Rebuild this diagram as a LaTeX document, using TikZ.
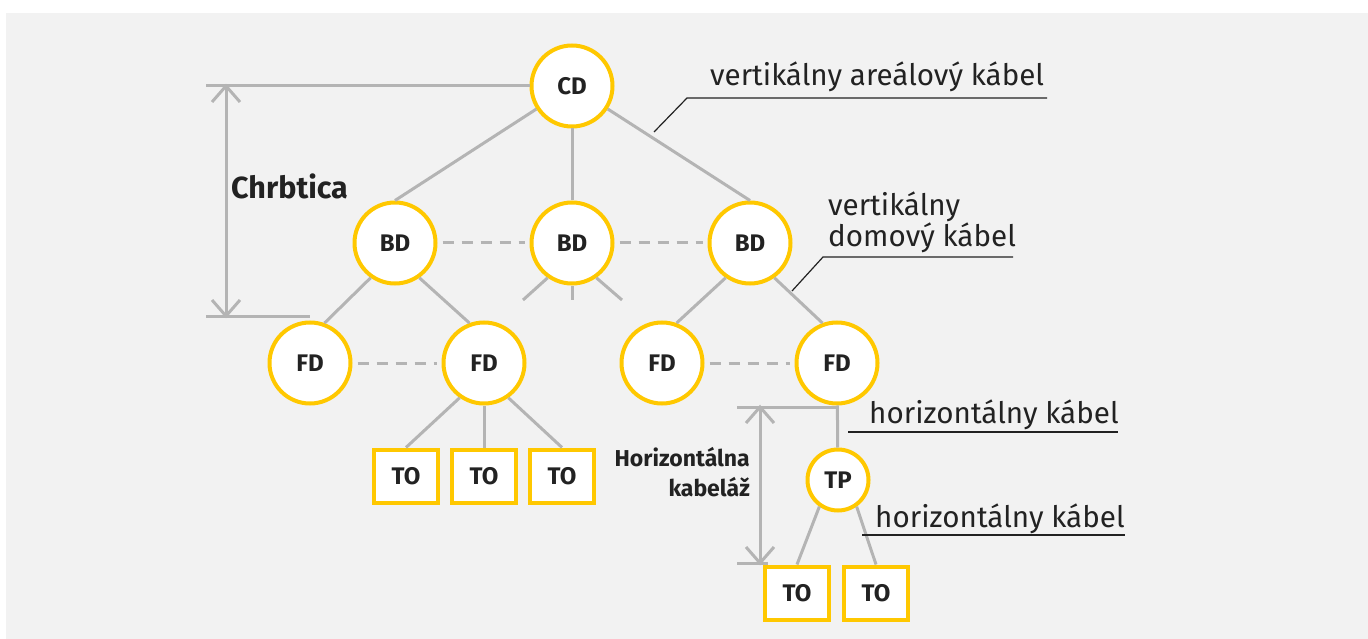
\documentclass[tikz,border=0pt]{standalone}
\usepackage{fontspec}
\setmainfont{Fira Sans}
\usetikzlibrary{calc}
\definecolor{ylw}{HTML}{FFC800}
\definecolor{lgray}{HTML}{B4B4B4}
\definecolor{bgc}{HTML}{F2F2F2}
\definecolor{txt}{HTML}{222222}
\tikzset{
  hub/.style={circle, draw=ylw, line width=4pt, fill=white, minimum size=81pt, inner sep=0pt,
    font=\fontsize{24}{24}\selectfont\bfseries, text=txt},
  tphub/.style={hub, minimum size=61pt},
  outlet/.style={rectangle, draw=ylw, line width=4pt, fill=white, minimum width=64pt,
    minimum height=53pt, inner sep=0pt, font=\fontsize{24}{24}\selectfont\bfseries, text=txt},
  link/.style={draw=lgray, line width=3pt},
  peer/.style={draw=lgray, line width=3pt, dash pattern=on 11pt off 8pt, shorten <=5pt, shorten >=5pt},
  dimline/.style={draw=lgray, line width=3pt},
  leader/.style={draw=txt, line width=1.2pt},
  lbl/.style={font=\fontsize{29.6}{34}\selectfont, text=txt, inner sep=0pt},
  dimlbl/.style={font=\bfseries, text=txt, inner sep=0pt}
}
\begin{document}
\begin{tikzpicture}[x=1pt,y=-1pt]
\useasboundingbox (0,0) rectangle (1368,639);
\fill[bgc] (6,13) rectangle (1368,639);

% nodes
\node[hub] (CD) at (572,86) {CD};
\node[hub] (BD1) at (395,243) {BD};
\node[hub] (BD2) at (572,243) {BD};
\node[hub] (BD3) at (750,243) {BD};
\node[hub] (FD1) at (310,363) {FD};
\node[hub] (FD2) at (484,363) {FD};
\node[hub] (FD3) at (662,363) {FD};
\node[hub] (FD4) at (837,363) {FD};
\node[tphub] (TP) at (838,480) {TP};
\node[outlet] (TO1) at (406,476) {TO};
\node[outlet] (TO2) at (484,476) {TO};
\node[outlet] (TO3) at (562,476) {TO};
\node[outlet] (TO4) at (797,593) {TO};
\node[outlet] (TO5) at (876,593) {TO};

% tree links
\draw[link] (CD) -- (BD1.north);
\draw[link] (CD) -- (BD2);
\draw[link] (CD) -- (BD3.north);
\draw[link] (BD1.235) -- (FD1.70);
\draw[link] (BD1.305) -- (FD2.110);
\draw[link] (BD3.235) -- (FD3.70);
\draw[link] (BD3.305) -- (FD4.110);
\draw[link] (FD2.235) -- (TO1.north);
\draw[link] (FD2) -- (TO2);
\draw[link] (FD2.305) -- (TO3.north);
\draw[link] (FD4) -- (TP);
\draw[link] (TP.235) -- (TO4.north);
\draw[link] (TP.305) -- (TO5.north);

% stubs below middle BD
\coordinate (s1) at (523,300);
\coordinate (s2) at (572,300);
\coordinate (s3) at (622,300);
\draw[link] (BD2.235) -- (s1);
\draw[link] (BD2.south) -- (s2);
\draw[link] (BD2.305) -- (s3);

% peer (dashed) links
\draw[peer] (BD1) -- (BD2);
\draw[peer] (BD2) -- (BD3);
\draw[peer] (FD1) -- (FD2);
\draw[peer] (FD3) -- (FD4);

% Chrbtica dimension
\coordinate (cht) at (206,86);
\coordinate (chb) at (206,316);
\coordinate (chbe) at (310,316);
\coordinate (cha1) at (226,86);
\coordinate (cha2) at (226,316);
\draw[dimline] (cht) -- (CD.west);
\draw[dimline] (chb) -- (chbe);
\draw[dimline] (cha1) -- (cha2);
\draw[dimline] ($(cha1)+(-14,16)$) -- (cha1) -- ($(cha1)+(14,16)$);
\draw[dimline] ($(cha2)+(-14,-16)$) -- (cha2) -- ($(cha2)+(14,-16)$);
\node[dimlbl, font=\fontsize{30.5}{30}\selectfont\bfseries, anchor=base west] (chl) at (231,199) {Chrbtica};

% Horizontalna kabelaz dimension
\coordinate (hkt) at (737,407);
\coordinate (hkte) at (836,407);
\coordinate (hkb) at (737,563);
\coordinate (hkbe) at (768,563);
\coordinate (hka1) at (760,407);
\coordinate (hka2) at (760,563);
\draw[dimline] (hkt) -- (hkte);
\draw[dimline] (hkb) -- (hkbe);
\draw[dimline] (hka1) -- (hka2);
\draw[dimline] ($(hka1)+(-14,16)$) -- (hka1) -- ($(hka1)+(14,16)$);
\draw[dimline] ($(hka2)+(-14,-16)$) -- (hka2) -- ($(hka2)+(14,-16)$);
\node[dimlbl, font=\fontsize{23}{23}\selectfont\bfseries, anchor=base east] (hk1) at (750,466) {Horizontálna};
\node[dimlbl, font=\fontsize{23}{23}\selectfont\bfseries, anchor=base east] (hk2) at (750,496) {kabeláž};

% labels with leaders
\node[lbl, anchor=base west] (l1) at (710,86) {vertikálny areálový kábel};
\coordinate (l1a) at (654,132);
\coordinate (l1b) at (687,98);
\coordinate (l1c) at (1047,98);
\draw[leader] (l1a) -- (l1b) -- (l1c);

\node[lbl, anchor=base west] (l2a) at (828,215) {vertikálny};
\node[lbl, anchor=base west] (l2b) at (828,247) {domový kábel};
\coordinate (l2p) at (792,291);
\coordinate (l2q) at (823,257);
\coordinate (l2r) at (1013,257);
\draw[leader] (l2p) -- (l2q) -- (l2r);

\node[lbl, anchor=base west] (l3) at (869,423) {horizontálny kábel};
\coordinate (l3a) at (848,432);
\coordinate (l3b) at (1118,432);
\draw[leader] (l3a) -- (l3b);

\node[lbl, anchor=base west] (l4) at (875,527) {horizontálny kábel};
\coordinate (l4a) at (862,535);
\coordinate (l4b) at (1125,535);
\draw[leader] (l4a) -- (l4b);
\end{tikzpicture}
\end{document}
